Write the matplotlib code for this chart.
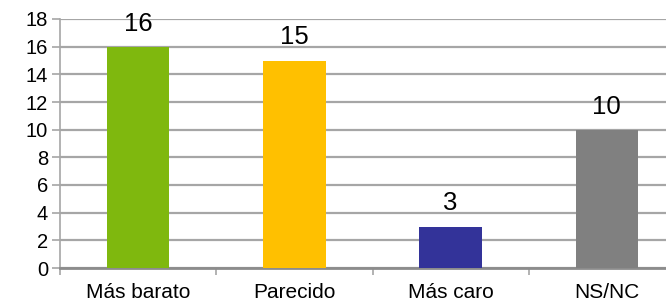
import matplotlib
matplotlib.use("Agg")
import matplotlib.pyplot as plt
from matplotlib.ticker import FixedLocator, NullFormatter

plt.rcParams['font.family'] = ['Liberation Sans', 'DejaVu Sans']

categories = ["Más barato", "Parecido", "Más caro", "NS/NC"]
values = [16, 15, 3, 10]
colors = ["#7FB80E", "#FFC000", "#333399", "#808080"]
yticks = [0, 2, 4, 6, 8, 10, 12, 14, 16, 18]

W, H = 666, 303
fig = plt.figure(figsize=(W / 100, H / 100), dpi=100)
ax = fig.add_axes([60 / W, (H - 268) / H, 625 / W, 249 / H])

grid_c = "#A6A6A6"
x = list(range(len(categories)))
ax.bar(x, values, width=0.40, color=colors, zorder=3)

ax.set_xlim(-0.5, len(categories) - 0.5)
ax.set_ylim(0, 18)
ax.set_yticks(yticks)
ax.yaxis.grid(True, color=grid_c, linewidth=1.6, zorder=0)
ax.set_axisbelow(True)

for s in ["top", "right"]:
    ax.spines[s].set_visible(False)
ax.spines["left"].set_color(grid_c)
ax.spines["left"].set_linewidth(1.2)
ax.spines["bottom"].set_color("#8C8C8C")
ax.spines["bottom"].set_linewidth(2)

ax.tick_params(axis="y", length=5.5, width=1.2, color=grid_c, labelsize=14.5, pad=3, labelcolor="black")
ax.set_xticks(x)
ax.set_xticklabels(categories)
ax.tick_params(axis="x", which="major", length=0, labelsize=15, pad=11)
ax.xaxis.set_minor_locator(FixedLocator([i - 0.5 for i in range(len(categories) + 1)]))
ax.xaxis.set_minor_formatter(NullFormatter())
ax.tick_params(axis="x", which="minor", length=5, width=1.2, color=grid_c)

for xi, v in zip(x, values):
    ax.annotate(str(v), (xi, v), xytext=(0, 8), textcoords="offset points",
                ha="center", va="bottom", fontsize=18.5, color="black")

fig.savefig("out.png", dpi=100)
